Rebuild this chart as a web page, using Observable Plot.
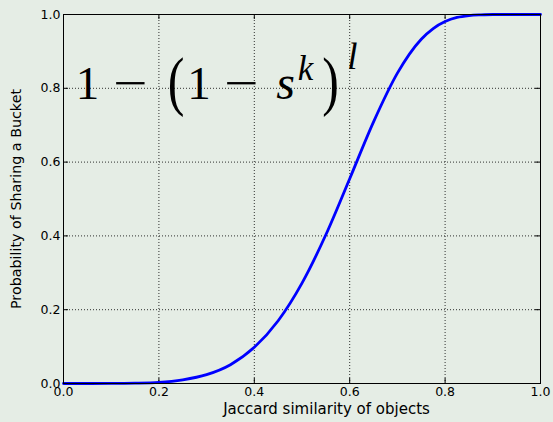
<!DOCTYPE html>
<html>
<head>
<meta charset="utf-8">
<script src="https://cdn.jsdelivr.net/npm/d3@7"></script>
<script src="https://cdn.jsdelivr.net/npm/@observablehq/plot@0.6"></script>
<style>
  html, body { margin: 0; padding: 0; background: #e5ede5; }
</style>
</head>
<body>
<div id="chart"></div>
<script>
// Probability that two objects share at least one LSH bucket, by Jaccard similarity
const similarity = [0, 0.05, 0.1, 0.15, 0.2, 0.25, 0.3, 0.35, 0.4, 0.45, 0.5, 0.55, 0.6,
  0.65, 0.7, 0.75, 0.775, 0.8, 0.825, 0.85, 0.875, 0.9, 0.95, 1];
const probability = [0, 0, 0.0001, 0.0008, 0.003, 0.010, 0.024, 0.051, 0.098, 0.170, 0.272,
  0.403, 0.555, 0.709, 0.841, 0.933, 0.962, 0.981, 0.992, 0.997, 0.999, 1, 1, 1];
const xTicks = [0, 0.2, 0.4, 0.6, 0.8, 1.0];
const yTicks = [0, 0.2, 0.4, 0.6, 0.8, 1.0];
const xLabel = "Jaccard similarity of objects";
const yLabel = "Probability of Sharing a Bucket";

const curve = similarity.map((s, i) => ({s, p: probability[i]}));

const W = 553, H = 422;
const M = {left: 63, right: 13, top: 14, bottom: 39};
const plotW = W - M.left - M.right;
const plotH = H - M.top - M.bottom;
const tickLen = 5;

// Formula annotation 1 − (1 − s^k)^l, set glyph by glyph in TeX style
function formula(index, scales) {
  const x0 = scales.x(0), y0 = scales.y(0.8);
  const g = d3.create("svg:g")
    .attr("font-family", "'Liberation Serif', 'DejaVu Serif', serif")
    .attr("fill", "black")
    .attr("text-anchor", "middle");
  const pieces = [
    {t: "1", dx: 24.5, dy: 11, size: 47},
    {t: "\u2212", dx: 67.5, dy: 11, size: 47, sx: 1.3},
    {t: "(", dx: 113, dy: 15, size: 50, sy: 1.32},
    {t: "1", dx: 136, dy: 11, size: 47},
    {t: "\u2212", dx: 178.5, dy: 11, size: 47, sx: 1.3},
    {t: "s", dx: 222.5, dy: 11, size: 48, italic: true},
    {t: "k", dx: 242.5, dy: -8, size: 35, italic: true},
    {t: ")", dx: 267.5, dy: 15, size: 50, sy: 1.32},
    {t: "l", dx: 289.5, dy: -19, size: 37, italic: true}
  ];
  for (const p of pieces) {
    g.append("text")
      .attr("transform", `translate(${x0 + p.dx},${y0 + p.dy}) scale(${p.sx || 1},${p.sy || 1})`)
      .attr("font-size", p.size)
      .attr("font-style", p.italic ? "italic" : "normal")
      .text(p.t);
  }
  return g.node();
}

const chart = Plot.plot({
  width: W,
  height: H,
  marginLeft: M.left,
  marginRight: M.right,
  marginTop: M.top,
  marginBottom: M.bottom,
  style: {background: "#e5ede5", fontFamily: "'DejaVu Sans', sans-serif", fontSize: "12px", color: "black"},
  x: {domain: [0, 1]},
  y: {domain: [0, 1]},
  marks: [
    // dotted grid
    Plot.gridX(xTicks, {stroke: "black", strokeOpacity: 0.8, strokeDasharray: "1,2", strokeWidth: 1}),
    Plot.gridY(yTicks, {stroke: "black", strokeOpacity: 0.8, strokeDasharray: "1,2", strokeWidth: 1}),
    // inward ticks on all four sides
    Plot.ruleX(xTicks, {x: d => d, insetTop: plotH - tickLen, stroke: "black"}),
    Plot.ruleX(xTicks, {x: d => d, insetBottom: plotH - tickLen, stroke: "black"}),
    Plot.ruleY(yTicks, {y: d => d, insetRight: plotW - tickLen, stroke: "black"}),
    Plot.ruleY(yTicks, {y: d => d, insetLeft: plotW - tickLen, stroke: "black"}),
    // tick labels
    Plot.axisX(xTicks, {tickSize: 0, tickPadding: 4, tickFormat: d3.format(".1f"), label: null, fontSize: 12.5}),
    Plot.axisY(yTicks, {tickSize: 0, tickPadding: 3, tickFormat: d3.format(".1f"), label: null, fontSize: 12.5}),
    // the curve
    Plot.line(curve, {x: "s", y: "p", stroke: "#0000ff", strokeWidth: 2.8, curve: "monotone-x"}),
    Plot.frame({stroke: "black", strokeWidth: 1}),
    formula,
    // axis titles
    Plot.text([xLabel], {text: d => d, frameAnchor: "bottom", dx: 24.5, dy: 30, fontSize: 15, fill: "black"}),
    Plot.text([yLabel], {text: d => d, frameAnchor: "left", textAnchor: "middle", rotate: -90, dx: -47, fontSize: 14.3, fill: "black"})
  ]
});
document.getElementById("chart").append(chart);
</script>
</body>
</html>
